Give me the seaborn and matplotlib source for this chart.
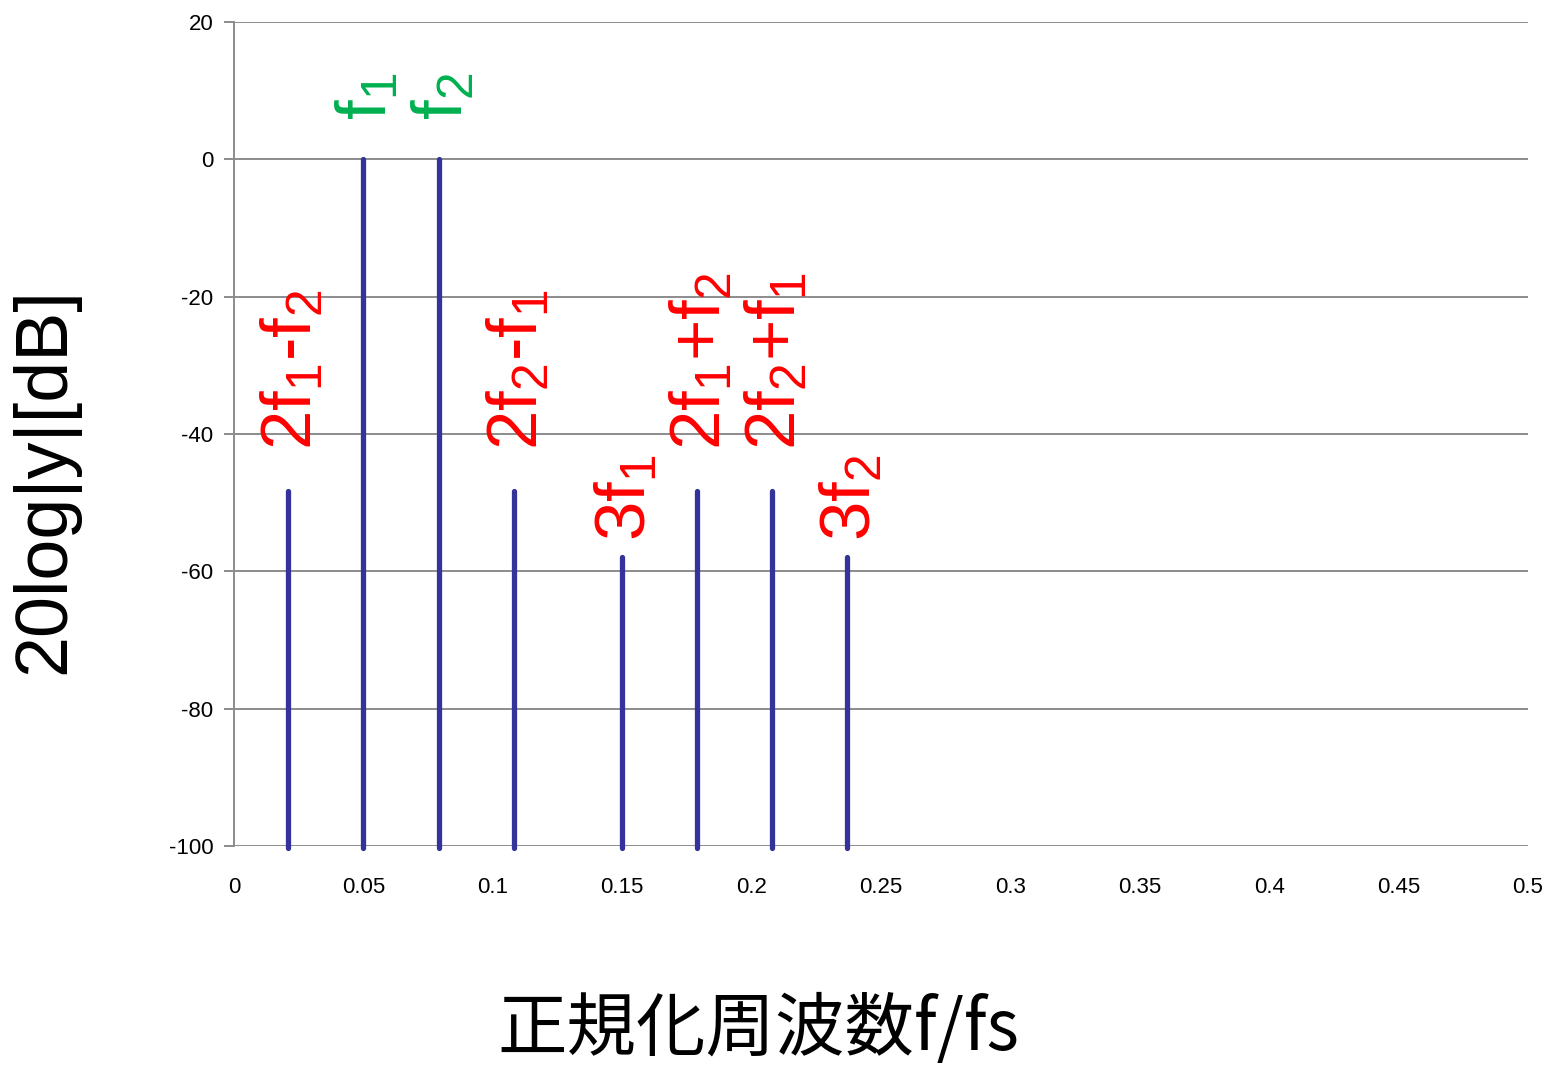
import matplotlib
matplotlib.use("Agg")
import matplotlib.pyplot as plt
import seaborn as sns
import pandas as pd

# ---- data ----
freqs = [0.021, 0.050, 0.079, 0.108, 0.150, 0.179, 0.208, 0.237]
levels_db = [-48.3, 0.0, 0.0, -48.3, -57.9, -48.3, -48.3, -57.9]
labels = [r"2f$_1$-f$_2$", r"f$_1$", r"f$_2$", r"2f$_2$-f$_1$",
          r"3f$_1$", r"2f$_1$+f$_2$", r"2f$_2$+f$_1$", r"3f$_2$"]
label_colors = ["red", "green", "green", "red", "red", "red", "red", "red"]
y_ticks = [20, 0, -20, -40, -60, -80, -100]
x_ticks = [0, 0.05, 0.1, 0.15, 0.2, 0.25, 0.3, 0.35, 0.4, 0.45, 0.5]
x_tick_labels = ["0", "0.05", "0.1", "0.15", "0.2", "0.25", "0.3", "0.35", "0.4", "0.45", "0.5"]

df = pd.DataFrame({"f": freqs, "db": levels_db, "label": labels, "color": label_colors})

sns.set_theme(style="white")
plt.rcParams["font.family"] = ["Liberation Sans", "Noto Sans CJK JP", "DejaVu Sans"]
plt.rcParams["mathtext.fontset"] = "custom"
plt.rcParams["mathtext.rm"] = "Liberation Sans"
plt.rcParams["mathtext.it"] = "Liberation Sans"
plt.rcParams["mathtext.bf"] = "Liberation Sans:bold"
plt.rcParams["axes.unicode_minus"] = False
plt.rcParams["text.color"] = "black"
plt.rcParams["xtick.color"] = "black"
plt.rcParams["ytick.color"] = "black"

fig = plt.figure(figsize=(15.48, 10.70), dpi=100)
ax = fig.add_axes([0.1512, 0.2093, 0.8359, 0.7701])

ymin, ymax = -100, 20
ax.set_xlim(0, 0.5)
ax.set_ylim(ymin, ymax)

# grid lines
for yt in y_ticks:
    ax.axhline(yt, color="#8c8c8c", lw=1.4, zorder=1)

# stems
ax.vlines(df["f"], ymin - 0.3, df["db"], colors="#333399", lw=3.8, zorder=3,
          clip_on=False, capstyle="round")

# labels
green_c = "#00B050"
for _, r in df.iterrows():
    col = green_c if r["color"] == "green" else "#FF0000"
    if r["color"] == "green":
        ty = r["db"] + 5.7
    else:
        ty = r["db"] + (6.0 if r["db"] > -50 else 2.3)
    ax.text(r["f"] - 0.0105, ty, r["label"], rotation=90, color=col,
            fontsize=51, ha="left", va="bottom", zorder=4)

ax.set_yticks(y_ticks)
ax.set_xticks(x_ticks)
ax.set_xticklabels(x_tick_labels)
ax.tick_params(axis="y", length=7, width=1.4, color="#8c8c8c", labelcolor="black",
               pad=8, labelsize=16, left=True)
ax.tick_params(axis="x", length=0, pad=22, labelsize=16, labelcolor="black", bottom=False)

for s in ["top", "right", "bottom"]:
    ax.spines[s].set_visible(False)
ax.spines["left"].set_color("#8c8c8c")
ax.spines["left"].set_linewidth(1.4)

fig.text(0.029, 0.551, "20log|y|[dB]", rotation=90, fontsize=53,
         ha="center", va="center", color="black",
         family=["Liberation Sans", "DejaVu Sans"])
fig.text(0.49, 0.037, "正規化周波数f/fs", fontsize=50, ha="center", va="center",
         color="black", family=["Noto Sans CJK JP", "DejaVu Sans"])

fig.savefig("out.png", dpi=100)
